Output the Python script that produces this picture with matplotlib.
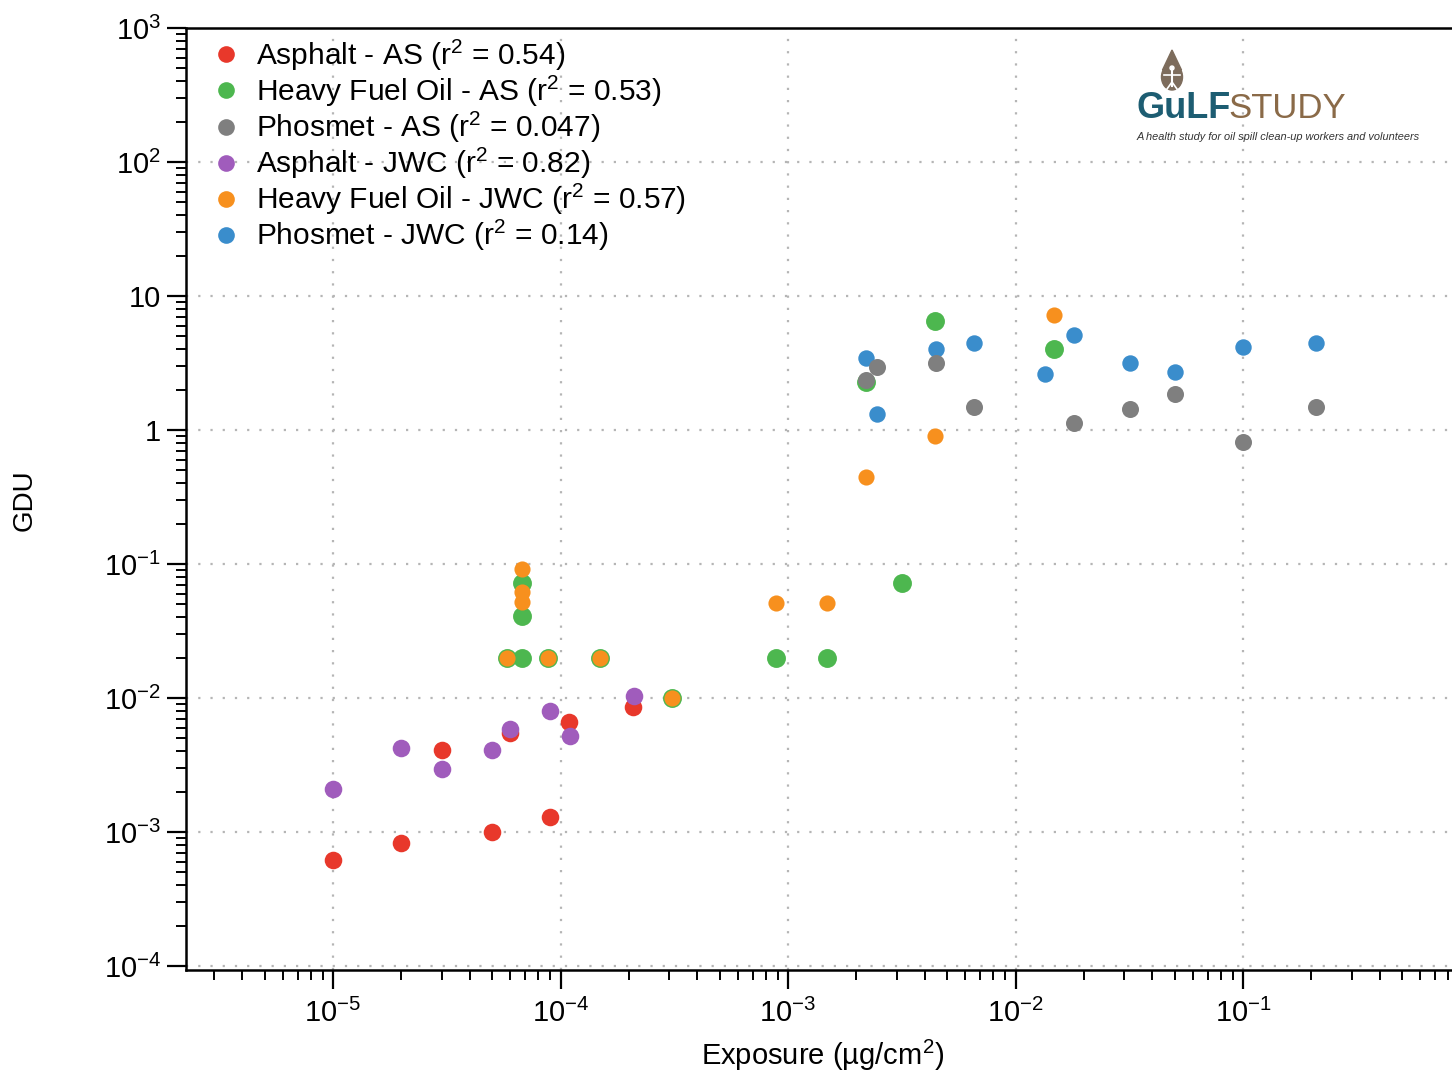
import matplotlib
matplotlib.use("Agg")
import matplotlib.pyplot as plt
from matplotlib.ticker import LogLocator, FixedLocator, FuncFormatter, NullFormatter
from matplotlib.patches import Ellipse, Polygon
from matplotlib.lines import Line2D
import numpy as np

plt.rcParams['font.family'] = ['Liberation Sans', 'DejaVu Sans']
plt.rcParams['mathtext.fontset'] = 'custom'
plt.rcParams['mathtext.rm'] = 'Liberation Sans'
plt.rcParams['mathtext.it'] = 'Liberation Sans:italic'
plt.rcParams['mathtext.bf'] = 'Liberation Sans:bold'

# ---- data ----
asphalt_as_x = [1e-5, 2e-5, 3e-5, 5e-5, 6e-5, 9e-5, 1.09e-4, 2.08e-4]
asphalt_as_y = [6.2e-4, 8.3e-4, 4.1e-3, 1.0e-3, 5.5e-3, 1.3e-3, 6.6e-3, 8.6e-3]

asphalt_jwc_x = [1e-5, 2e-5, 3e-5, 5e-5, 6e-5, 9e-5, 1.1e-4, 2.1e-4]
asphalt_jwc_y = [2.1e-3, 4.2e-3, 2.95e-3, 4.1e-3, 5.9e-3, 8.0e-3, 5.2e-3, 1.03e-2]

hfo_as_x = [5.8e-5, 6.75e-5, 6.75e-5, 6.75e-5, 8.8e-5, 1.49e-4, 3.1e-4,
            8.85e-4, 1.48e-3, 3.17e-3, 2.2e-3, 4.43e-3, 1.48e-2]
hfo_as_y = [0.02, 0.02, 0.072, 0.041, 0.02, 0.02, 0.01,
            0.02, 0.02, 0.072, 2.28, 6.5, 4.0]

hfo_jwc_x = [5.8e-5, 6.75e-5, 6.75e-5, 6.75e-5, 8.8e-5, 1.49e-4, 3.1e-4,
             8.85e-4, 1.48e-3, 2.2e-3, 4.43e-3, 1.48e-2]
hfo_jwc_y = [0.02, 0.092, 0.062, 0.052, 0.02, 0.02, 0.01,
             0.051, 0.051, 0.446, 0.90, 7.2]

phosmet_as_x = [2.2e-3, 2.45e-3, 4.45e-3, 6.6e-3, 1.8e-2, 3.2e-2, 5.0e-2, 0.1, 0.209]
phosmet_as_y = [2.36, 2.97, 3.15, 1.49, 1.13, 1.43, 1.85, 0.82, 1.49]

phosmet_jwc_x = [2.2e-3, 2.45e-3, 4.45e-3, 6.6e-3, 1.35e-2, 1.8e-2, 3.2e-2, 5.0e-2, 0.1, 0.209]
phosmet_jwc_y = [3.43, 1.32, 4.05, 4.48, 2.6, 5.12, 3.18, 2.7, 4.18, 4.44]

labels = [r"Asphalt - AS (r$^2$ = 0.54)",
          r"Heavy Fuel Oil - AS (r$^2$ = 0.53)",
          r"Phosmet - AS (r$^2$ = 0.047)",
          r"Asphalt - JWC (r$^2$ = 0.82)",
          r"Heavy Fuel Oil - JWC (r$^2$ = 0.57)",
          r"Phosmet - JWC (r$^2$ = 0.14)"]

x_major = [1e-5, 1e-4, 1e-3, 1e-2, 1e-1]
y_major = [1e-4, 1e-3, 1e-2, 1e-1, 1, 10, 1e2, 1e3]

c_red = '#e8382b'
c_green = '#4db74f'
c_gray = '#7f7f7f'
c_purple = '#a05cbc'
c_orange = '#f7901e'
c_blue = '#3a8dcc'

fig = plt.figure(figsize=(14.52, 10.72), dpi=100)
W, H = 1452, 1072
ax = fig.add_axes([186 / W, (H - 970) / H, (1452 - 186) / W, (970 - 28) / H])
ax.set_xscale('log')
ax.set_yscale('log')
ax.set_xlim(10 ** (-5 - (333 - 186) / 227.5), 10 ** (-1 + (1452 - 1243) / 227.5))
ax.set_ylim(10 ** (-4 - 4 / 134.0), 1e3)

ax.scatter(asphalt_as_x, asphalt_as_y, s=160, color=c_red, lw=0, zorder=3)
ax.scatter(asphalt_jwc_x, asphalt_jwc_y, s=160, color=c_purple, lw=0, zorder=4)
ax.scatter(hfo_as_x, hfo_as_y, s=185, color=c_green, lw=0, zorder=5)
ax.scatter(hfo_jwc_x, hfo_jwc_y, s=135, color=c_orange, lw=0, zorder=6)
ax.scatter(phosmet_jwc_x, phosmet_jwc_y, s=140, color=c_blue, lw=0, zorder=7)
ax.scatter(phosmet_as_x, phosmet_as_y, s=150, color=c_gray, lw=0, zorder=8)

leg_colors = [c_red, c_green, c_gray, c_purple, c_orange, c_blue]
handles = [Line2D([], [], ls='none', marker='o', markersize=12, markerfacecolor=c,
                  markeredgewidth=0) for c in leg_colors]
leg = ax.legend(handles, labels, loc='upper left', bbox_to_anchor=(0.0, 1.012),
                frameon=False, fontsize=21.5, handletextpad=0.35, labelspacing=0.03,
                borderaxespad=0.3, handlelength=1.3)

# grid
ax.grid(True, which='major', linestyle=(0, (1, 4.5)), color='#b5b5b5', lw=1.6)
ax.set_axisbelow(True)

# spines
for s in ['left', 'bottom', 'top']:
    ax.spines[s].set_linewidth(1.8)
ax.spines['right'].set_visible(False)

# ticks
ax.xaxis.set_major_locator(FixedLocator(x_major))
ax.xaxis.set_minor_locator(LogLocator(base=10, subs=np.arange(2, 10), numticks=20))
ax.yaxis.set_major_locator(FixedLocator(y_major))
ax.yaxis.set_minor_locator(LogLocator(base=10, subs=np.arange(2, 10), numticks=20))


def fmt_x(v, pos):
    e = int(round(np.log10(v)))
    return r"$10^{%d}$" % e


def fmt_y(v, pos):
    e = int(round(np.log10(v)))
    if e == 0:
        return "1"
    if e == 1:
        return "10"
    return r"$10^{%d}$" % e


ax.xaxis.set_major_formatter(FuncFormatter(fmt_x))
ax.yaxis.set_major_formatter(FuncFormatter(fmt_y))
ax.xaxis.set_minor_formatter(NullFormatter())
ax.yaxis.set_minor_formatter(NullFormatter())
ax.tick_params(axis='both', which='major', direction='out', length=14, width=1.6,
               labelsize=21, pad=4)
ax.tick_params(axis='x', which='major', pad=7)
ax.tick_params(axis='both', which='minor', direction='out', length=7.5, width=1.4)
ax.tick_params(top=False, right=False)

ax.set_xlabel("Exposure (µg/cm$^2$)", fontsize=21)
ax.xaxis.label.set_verticalalignment('center')
ax.xaxis.set_label_coords((823 - 186) / (1452 - 186), -(1055 - 970) / (970 - 28))
ax.set_ylabel("GDU", fontsize=20)
ax.yaxis.label.set_verticalalignment('center')
ax.yaxis.set_label_coords(-(186 - 25) / (1452 - 186), (970 - 500) / (970 - 28))

# logo
fig.text(1136 / W, 1 - 118 / H, "GuLF", fontsize=26, fontweight='bold', color='#1d5d72',
         ha='left', va='baseline')
fig.text(1228 / W, 1 - 118 / H, "STUDY", fontsize=25, color='#8a6a48',
         ha='left', va='baseline')
fig.text(1137 / W, 1 - 140 / H, "A health study for oil spill clean-up workers and volunteers",
         fontsize=7.9, style='italic', color='#333333', ha='left', va='baseline')
drop_c = '#7d6c5c'
fig.patches.append(Ellipse((1172 / W, 1 - 77 / H), 21 / W, 26 / H, transform=fig.transFigure,
                           color=drop_c, zorder=10))
fig.patches.append(Polygon([[1162.5 / W, 1 - 70 / H], [1172 / W, 1 - 50 / H], [1181.5 / W, 1 - 70 / H]],
                           closed=True, transform=fig.transFigure, color=drop_c, zorder=10))
fig.add_artist(Line2D([1172 / W, 1172 / W], [1 - 70 / H, 1 - 86 / H], transform=fig.transFigure,
                      color='white', lw=1.5, zorder=11))
fig.add_artist(Line2D([1164 / W, 1180 / W], [1 - 75 / H, 1 - 75 / H], transform=fig.transFigure,
                      color='white', lw=1.2, zorder=11))
fig.add_artist(Line2D([1167 / W, 1172 / W, 1177 / W], [1 - 89 / H, 1 - 82 / H, 1 - 89 / H],
                      transform=fig.transFigure, color='white', lw=1.2, zorder=11))
fig.patches.append(Ellipse((1172 / W, 1 - 68 / H), 4 / W, 4 / H, transform=fig.transFigure,
                           color='white', zorder=11))

fig.savefig("out.png", dpi=100)
